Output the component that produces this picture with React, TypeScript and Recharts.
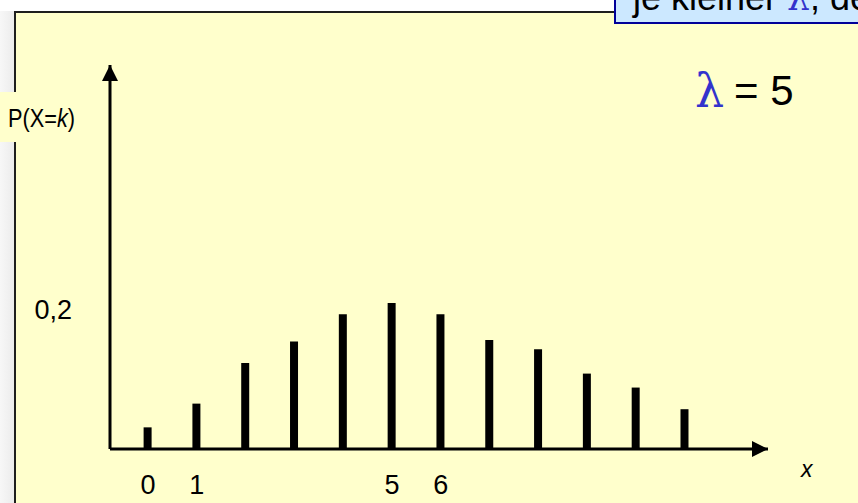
import { BarChart, Bar, XAxis, YAxis } from 'recharts';

// Poisson-Verteilung, lambda = 5 (schematisch)
const kValues = ['0', '1', '2', '3', '4', '5', '6', '7', '8', '9', '10', '11'];
const probabilities = [0.031, 0.065, 0.123, 0.154, 0.193, 0.209, 0.193, 0.156, 0.143, 0.108, 0.088, 0.057];
const labeledK = ['0', '1', '5', '6'];
const yTicks = [0.2];

const data = kValues.map((k, i) => ({ k, p: probabilities[i] }));

const SANS = '"Liberation Sans", Arial, sans-serif';
const SERIF = '"DejaVu Serif", "Liberation Serif", serif';
const PANEL = '#FFFFCC';

export default function App() {
  return (
    <div
      style={{
        position: 'absolute',
        left: 0,
        top: 0,
        width: 858,
        height: 503,
        overflow: 'hidden',
        background: '#fff',
        fontFamily: SANS,
      }}
    >
      {/* grey strip on the left */}
      <div
        style={{
          position: 'absolute',
          left: 0,
          top: 11,
          width: 14,
          height: 492,
          background: 'linear-gradient(to right, #f7f7f7, #ececec)',
        }}
      />
      {/* slide panel */}
      <div
        style={{
          position: 'absolute',
          left: 14,
          top: 11,
          width: 860,
          height: 500,
          background: PANEL,
          borderLeft: '2px solid #1e1e1e',
          borderTop: '2px solid #1e1e1e',
        }}
      />
      {/* callout box at the top right */}
      <div
        style={{
          position: 'absolute',
          left: 614,
          top: -20,
          width: 260,
          height: 44,
          boxSizing: 'border-box',
          background: '#CCE8FF',
          border: '2px solid #000099',
        }}
      />
      {/* backdrop behind the y label */}
      <div
        style={{
          position: 'absolute',
          left: 0,
          top: 92,
          width: 40,
          height: 50,
          background: PANEL,
        }}
      />

      <div style={{ position: 'absolute', left: 0, top: 0 }}>
        <BarChart
          width={858}
          height={503}
          data={data}
          margin={{ top: 65, right: 90, bottom: 14, left: 0 }}
          barSize={8}
          style={{ fontFamily: SANS }}
        >
          <defs>
            <marker
              id="axisArrow"
              viewBox="0 0 16 16"
              markerWidth={16}
              markerHeight={16}
              refX={16}
              refY={8}
              markerUnits="userSpaceOnUse"
              orient="auto-start-reverse"
            >
              <path d="M0,0 L16,8 L0,16 Z" fill="#000" />
            </marker>
          </defs>
          <XAxis
            dataKey="k"
            height={40}
            interval={0}
            padding={{ left: 13.6, right: 58.7 }}
            axisLine={{ stroke: '#000', strokeWidth: 3, markerEnd: 'url(#axisArrow)' }}
            tickLine={false}
            tickSize={0}
            tickMargin={26}
            tick={{ fill: '#000', fontSize: 27, fontFamily: SANS }}
            tickFormatter={(v) => (labeledK.includes(String(v)) ? String(v) : '')}
          />
          <YAxis
            width={110}
            domain={[0, 0.55]}
            ticks={yTicks}
            axisLine={{ stroke: '#000', strokeWidth: 3, markerStart: 'url(#axisArrow)' }}
            tickLine={false}
            tickSize={0}
            tickMargin={38}
            tick={{ fill: '#000', fontSize: 27, fontFamily: SANS }}
            tickFormatter={(v) => String(v).replace('.', ',')}
          />
          <Bar dataKey="p" fill="#000" isAnimationActive={false} />
        </BarChart>
      </div>

      {/* text annotations */}
      <svg
        width={858}
        height={503}
        style={{ position: 'absolute', left: 0, top: 0, pointerEvents: 'none' }}
      >
        <text x={633} y={10} fontFamily={SANS} fontSize={36} fill="#000">
          je kleiner <tspan fill="#3333CC" fontFamily={SERIF}>λ</tspan>, desto
        </text>
        <text x={8} y={127} fontFamily={SANS} fontSize={25} fill="#000" textLength={67} lengthAdjust="spacingAndGlyphs">
          P(X=<tspan fontStyle="italic">k</tspan>)
        </text>
        <text x={695} y={107} fontFamily={SERIF} fontSize={46} fill="#3333CC">
          λ
        </text>
        <text x={734} y={105} fontFamily={SANS} fontSize={42} fill="#000">
          = 5
        </text>
        <text x={801} y={477} fontFamily={SANS} fontSize={23} fontStyle="italic" fill="#000">
          x
        </text>
      </svg>
    </div>
  );
}
